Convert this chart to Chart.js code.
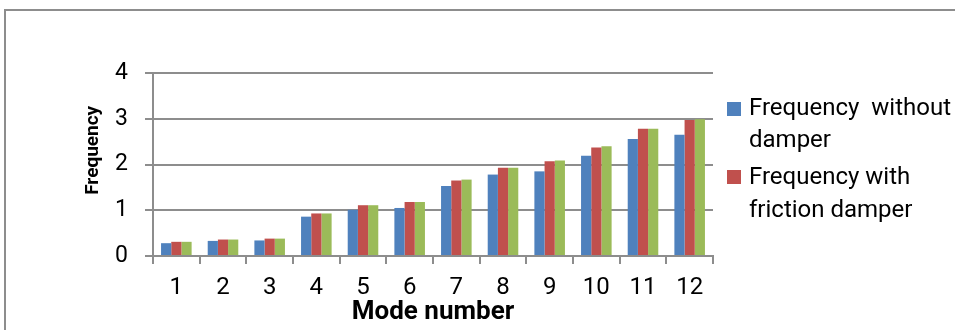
<!DOCTYPE html>
<html>
<head>
<meta charset="utf-8">
<script src="https://cdn.jsdelivr.net/npm/chart.js@4/dist/chart.umd.min.js"></script>
<style>
  html, body { margin: 0; padding: 0; background: #fff; overflow: hidden; }
  #wrap { position: relative; width: 955px; height: 330px; overflow: hidden; }
  #frame { position: absolute; left: 4px; top: 9px; width: 2000px; height: 1000px;
           border-left: 2px solid #8d8d8d; border-top: 2px solid #8d8d8d; }
  canvas { position: absolute; left: 0; top: 0; }
</style>
</head>
<body>
<div id="wrap">
  <div id="frame"></div>
  <canvas id="c" width="955" height="330"></canvas>
</div>
<script>
const modes = ['1','2','3','4','5','6','7','8','9','10','11','12'];
const freqWithout  = [0.28,0.33,0.34,0.86,1.01,1.05,1.53,1.78,1.85,2.19,2.56,2.65];
const freqFriction = [0.31,0.36,0.38,0.93,1.11,1.18,1.65,1.93,2.07,2.37,2.78,2.97];
const freqThird    = [0.31,0.36,0.38,0.93,1.11,1.18,1.67,1.93,2.09,2.40,2.78,2.99];
const yMin = 0, yMax = 4, yStep = 1;
const legendLines = [
  ['Frequency  without', 'damper'],
  ['Frequency with', 'friction damper']
];
const seriesColors = ['#4F81BD', '#C0504D', '#9BBB59'];

const FONT = "Roboto, 'Liberation Sans', sans-serif";
const GRID = '#8d8d8d';

const legendPlugin = {
  id: 'sideLegend',
  afterDraw(chart) {
    const ctx = chart.ctx, ca = chart.chartArea;
    ctx.save();
    ctx.font = '24px ' + FONT;
    ctx.textBaseline = 'alphabetic';
    ctx.textAlign = 'left';
    const boxTops = [29, 97];
    const baselines = [[42, 74], [111.3, 143.7]];
    legendLines.forEach((lines, i) => {
      ctx.fillStyle = seriesColors[i];
      ctx.fillRect(ca.right + 14, ca.top + boxTops[i], 14, 14);
      ctx.fillStyle = '#000';
      lines.forEach((t, j) => ctx.fillText(t, ca.right + 36, ca.top + baselines[i][j]));
    });
    ctx.restore();
  }
};

new Chart(document.getElementById('c'), {
  type: 'bar',
  data: {
    labels: modes,
    datasets: [
      { label: legendLines[0].join(' '), data: freqWithout,  backgroundColor: seriesColors[0] },
      { label: legendLines[1].join(' '), data: freqFriction, backgroundColor: seriesColors[1] },
      { label: 'Series 3',               data: freqThird,    backgroundColor: seriesColors[2] }
    ]
  },
  options: {
    responsive: false,
    animation: false,
    devicePixelRatio: 1,
    layout: { padding: { left: 82, top: 73, right: 242, bottom: 0 } },
    datasets: { bar: { categoryPercentage: 0.655, barPercentage: 1.0, borderWidth: 0 } },
    plugins: { legend: { display: false }, tooltip: { enabled: false } },
    scales: {
      x: {
        afterFit(s) { s.height = 74; },
        grid: { display: true, drawOnChartArea: false, drawTicks: true, tickLength: 8, color: GRID, lineWidth: 2, offset: true },
        border: { display: true, color: GRID, width: 2 },
        ticks: { font: { family: FONT, size: 24 }, color: '#000', padding: 10, maxRotation: 0 },
        title: { display: true, text: 'Mode number', font: { family: FONT, size: 26, weight: 'bold' }, color: '#000', padding: { top: 0, bottom: 2 } }
      },
      y: {
        min: yMin, max: yMax,
        afterFit(s) { s.width = 71; },
        grid: { color: GRID, lineWidth: 2, drawTicks: true, tickLength: 8 },
        border: { display: true, color: GRID, width: 2 },
        ticks: { stepSize: yStep, font: { family: FONT, size: 23 }, color: '#000', padding: 17 },
        title: { display: true, text: '      Frequency', font: { family: FONT, size: 19, weight: 'bold' }, color: '#000', padding: { top: 0, bottom: 0 } }
      }
    }
  },
  plugins: [legendPlugin]
});
</script>
</body>
</html>
